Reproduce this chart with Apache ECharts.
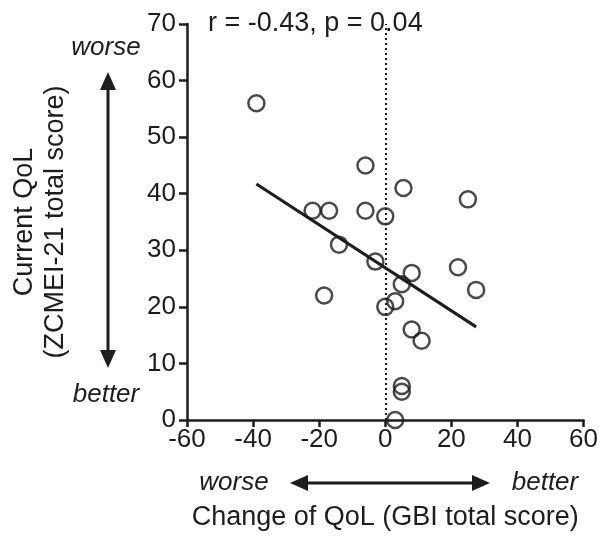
<!DOCTYPE html>
<html>
<head>
<meta charset="utf-8">
<script src="https://cdn.jsdelivr.net/npm/echarts@6/dist/echarts.min.js"></script>
<style>
  html, body { margin: 0; padding: 0; background: #fff; }
  #chart { width: 601px; height: 536px; }
</style>
</head>
<body>
<div id="chart"></div>
<script>
// change of QoL (GBI) vs current QoL (ZCMEI-21)
var gbiChange = [-39, -6, 5.5, -22, -17, -6, 0, 25, -14, -3, 8, 22, 5, 27.5, -18.5, 3, 0, 8, 11, 5, 5, 3]
var zcmeiScore = [56, 45, 41, 37, 37, 37, 36, 39, 31, 28, 26, 27, 24, 23, 22, 21, 20, 16, 14, 6, 5, 0]
var statsText = 'r = -0.43, p = 0.04'

var font = 'Liberation Sans, Arial, sans-serif'
var ink = '#1e1c1d'

var points = gbiChange.map(function(x, i) {
  return [x, zcmeiScore[i]]
})

// least squares fit
var n = points.length
var mx = 0, my = 0
points.forEach(function(p) { mx += p[0]; my += p[1] })
mx /= n
my /= n
var sxy = 0, sxx = 0
points.forEach(function(p) {
  sxy += (p[0] - mx) * (p[1] - my)
  sxx += (p[0] - mx) * (p[0] - mx)
})
var slope = sxy / sxx
var icpt = my - slope * mx
var xLo = Math.min.apply(null, gbiChange)
var xHi = Math.max.apply(null, gbiChange)
var fitLine = [[xLo, icpt + slope * xLo], [xHi, icpt + slope * xHi]]

var chart = echarts.init(document.getElementById('chart'))

var option = {
  backgroundColor: '#fff',
  animation: false,
  grid: {
    left: 187,
    right: 15,
    top: 24,
    bottom: 114
  },
  xAxis: {
    type: 'value',
    min: -60,
    max: 60,
    interval: 20,
    name: 'Change of QoL (GBI total score)',
    nameLocation: 'middle',
    nameGap: 84,
    nameTextStyle: { color: ink, fontSize: 27, fontFamily: font },
    axisLine: { onZero: false, lineStyle: { color: ink, width: 2.5 } },
    axisTick: { inside: false, length: 7, lineStyle: { color: ink, width: 2.5 } },
    axisLabel: { color: ink, fontSize: 26, fontFamily: font, margin: 7 },
    splitLine: { show: false }
  },
  yAxis: {
    type: 'value',
    min: 0,
    max: 70,
    interval: 10,
    name: 'Current QoL\n(ZCMEI-21 total score)',
    nameLocation: 'middle',
    nameGap: 116,
    nameTextStyle: { color: ink, fontSize: 27, fontFamily: font, lineHeight: 31 },
    axisLine: { onZero: false, lineStyle: { color: ink, width: 2.5 } },
    axisTick: { inside: false, length: 8, lineStyle: { color: ink, width: 2.5 } },
    axisLabel: { color: ink, fontSize: 26, fontFamily: font, margin: 11 },
    splitLine: { show: false }
  },
  series: [
    {
      type: 'scatter',
      data: points,
      symbol: 'circle',
      symbolSize: 16,
      itemStyle: { color: 'rgba(0,0,0,0)', borderColor: ink, borderWidth: 2.5 },
      z: 3
    },
    {
      type: 'line',
      data: fitLine,
      showSymbol: false,
      lineStyle: { color: ink, width: 3 },
      z: 2,
      markLine: {
        silent: true,
        symbol: 'none',
        label: { show: false },
        lineStyle: { color: ink, type: [2, 3], width: 2 },
        data: [{ xAxis: 0 }]
      }
    }
  ],
  graphic: [
    {
      type: 'text',
      left: 208,
      top: 10,
      style: { text: statsText, fill: ink, fontSize: 27, fontFamily: font }
    },
    // vertical arrow
    { type: 'line', shape: { x1: 108, y1: 86, x2: 108, y2: 354 }, style: { stroke: ink, lineWidth: 3 } },
    { type: 'polygon', shape: { points: [[108, 72], [100, 90], [116, 90]] }, style: { fill: ink } },
    { type: 'polygon', shape: { points: [[108, 368], [100, 350], [116, 350]] }, style: { fill: ink } },
    {
      type: 'text', x: 106, y: 48,
      style: { text: 'worse', fill: ink, fontSize: 26, fontStyle: 'italic', fontFamily: font, align: 'center', verticalAlign: 'middle' }
    },
    {
      type: 'text', x: 106, y: 395,
      style: { text: 'better', fill: ink, fontSize: 26, fontStyle: 'italic', fontFamily: font, align: 'center', verticalAlign: 'middle' }
    },
    // horizontal arrow
    { type: 'line', shape: { x1: 304, y1: 483, x2: 476, y2: 483 }, style: { stroke: ink, lineWidth: 3 } },
    { type: 'polygon', shape: { points: [[290, 483], [308, 475], [308, 491]] }, style: { fill: ink } },
    { type: 'polygon', shape: { points: [[490, 483], [472, 475], [472, 491]] }, style: { fill: ink } },
    {
      type: 'text', x: 234, y: 483,
      style: { text: 'worse', fill: ink, fontSize: 26, fontStyle: 'italic', fontFamily: font, align: 'center', verticalAlign: 'middle' }
    },
    {
      type: 'text', x: 545, y: 483,
      style: { text: 'better', fill: ink, fontSize: 26, fontStyle: 'italic', fontFamily: font, align: 'center', verticalAlign: 'middle' }
    }
  ]
}

chart.setOption(option)
</script>
</body>
</html>
